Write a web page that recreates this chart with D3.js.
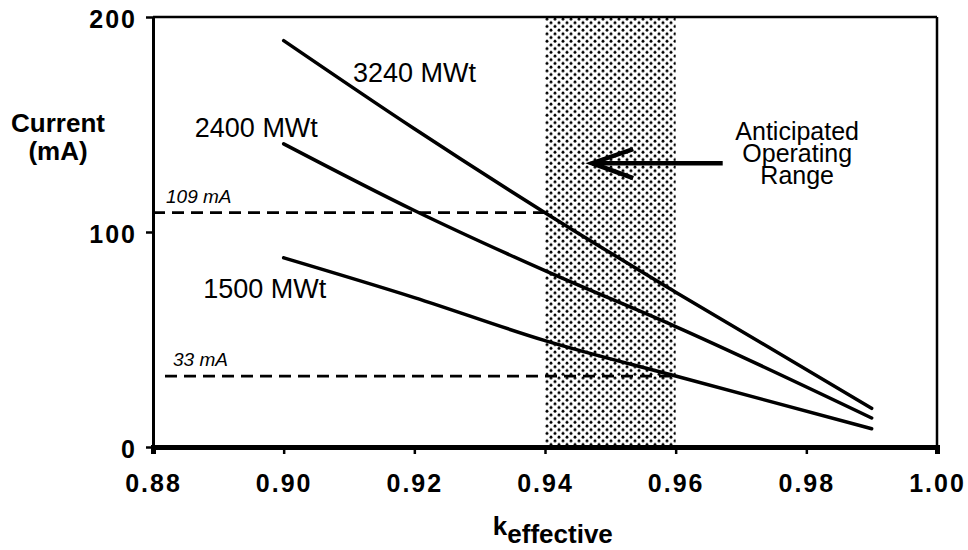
<!DOCTYPE html>
<html>
<head>
<meta charset="utf-8">
<script src="https://cdn.jsdelivr.net/npm/d3@7"></script>
<style>
	html, body { margin: 0; padding: 0; background: #fff; }
	svg { display: block; font-family: 'Liberation Sans', Arial, Helvetica, sans-serif; }
</style>
</head>
<body>
<div id="chart"></div>
<script>
// k-effective sample points
const kValues = [0.90, 0.92, 0.94, 0.96, 0.99];
const current3240 = [189, 148, 109, 72, 18];
const current2400 = [141, 110, 82, 56, 13.5];
const current1500 = [88, 69.5, 49.5, 33, 8.5];

const seriesNames = ['3240 MWt', '2400 MWt', '1500 MWt'];
const xTicks = [0.88, 0.90, 0.92, 0.94, 0.96, 0.98, 1.00];
const yTicks = [0, 100, 200];
const operatingRange = [0.94, 0.96];
const markerCurrents = [109, 33];           // dashed reference levels
const markerEnds = [0.94, 0.96];            // where each dashed line stops
const markerLabels = ['109  mA', '33 mA'];

const width = 968,
	height = 550,
	margin = {top: 17, right: 31, bottom: 103, left: 153},
	innerWidth = width - margin.left - margin.right,
	innerHeight = height - margin.top - margin.bottom;

const x = d3.scaleLinear().domain([0.88, 1.00]).range([0, innerWidth]);
const y = d3.scaleLinear().domain([0, 200]).range([innerHeight, 0]);

const svg = d3.select('#chart').append('svg')
	.attr('width', width)
	.attr('height', height);

// dotted fill for the operating range
const defs = svg.append('defs');
const pat = defs.append('pattern')
	.attr('id', 'dots')
	.attr('width', 8)
	.attr('height', 7.4)
	.attr('patternUnits', 'userSpaceOnUse');
pat.append('circle').attr('cx', 2).attr('cy', 2).attr('r', 1.45).attr('fill', '#000');
pat.append('circle').attr('cx', 6).attr('cy', 5.7).attr('r', 1.45).attr('fill', '#000');

const g = svg.append('g')
	.attr('transform', `translate(${margin.left},${margin.top})`);

g.append('rect')
	.attr('x', x(operatingRange[0]))
	.attr('y', 0)
	.attr('width', x(operatingRange[1]) - x(operatingRange[0]))
	.attr('height', innerHeight)
	.attr('fill', 'url(#dots)');

// dashed reference currents
markerCurrents.forEach((c, i) => {
	g.append('line')
		.attr('x1', i === 0 ? 0 : 12)
		.attr('x2', x(markerEnds[i]))
		.attr('y1', y(c))
		.attr('y2', y(c))
		.attr('stroke', '#000')
		.attr('stroke-width', 2.8)
		.attr('stroke-dasharray', '12,7');
	g.append('text')
		.attr('x', i === 0 ? 13 : 20)
		.attr('y', y(c) - 10)
		.style('font-size', '19px')
		.style('font-style', 'italic')
		.text(markerLabels[i]);
});

// the three power curves
const line = d3.line()
	.x(d => x(d[0]))
	.y(d => y(d[1]))
	.curve(d3.curveMonotoneX);

[current3240, current2400, current1500].forEach(vals => {
	g.append('path')
		.datum(kValues.map((k, i) => [k, vals[i]]))
		.attr('d', line)
		.attr('fill', 'none')
		.attr('stroke', '#000')
		.attr('stroke-width', 3.5)
		.attr('stroke-linecap', 'round');
});

// curve labels
const labelPos = [[0.9106, 170], [0.8864, 144], [0.8877, 69.3]];
seriesNames.forEach((name, i) => {
	g.append('text')
		.attr('x', x(labelPos[i][0]))
		.attr('y', y(labelPos[i][1]))
		.style('font-size', '27px')
		.text(name);
});

// arrow to shaded range
const arrowY = y(132);
g.append('line')
	.attr('x1', x(0.9672))
	.attr('x2', x(0.9472))
	.attr('y1', arrowY)
	.attr('y2', arrowY)
	.attr('stroke', '#000')
	.attr('stroke-width', 4.5);
g.append('path')
	.attr('d', `M${x(0.9535)},${arrowY - 14} L${x(0.9472)},${arrowY} L${x(0.9535)},${arrowY + 15}`)
	.attr('fill', 'none')
	.attr('stroke', '#000')
	.attr('stroke-width', 4.5);

const note = g.append('text')
	.attr('text-anchor', 'middle')
	.style('font-size', '25px');
['Anticipated', 'Operating', 'Range'].forEach((t, i) => {
	note.append('tspan')
		.attr('x', x(0.9786))
		.attr('y', 123 + i * 22)
		.text(t);
});

// frame
g.append('line').attr('x1', 0).attr('x2', innerWidth).attr('y1', 0).attr('y2', 0)
	.attr('stroke', '#000').attr('stroke-width', 2.5);
g.append('line').attr('x1', innerWidth).attr('x2', innerWidth).attr('y1', 0).attr('y2', innerHeight)
	.attr('stroke', '#000').attr('stroke-width', 2.5);

// axes
const xAxis = g.append('g')
	.attr('transform', `translate(0,${innerHeight})`)
	.call(d3.axisBottom(x).tickValues(xTicks).tickSize(7).tickPadding(20).tickFormat(d3.format('.2f')));
xAxis.select('.domain').attr('stroke-width', 5);
xAxis.selectAll('.tick line').attr('stroke-width', 2.5);
xAxis.selectAll('text')
	.style('font-size', '25px')
	.style('font-weight', 'bold')
	.style('letter-spacing', '2px')
	.attr('fill', '#000');

const yAxis = g.append('g')
	.call(d3.axisLeft(y).tickValues(yTicks).tickSize(7).tickPadding(9).tickSizeOuter(0));
yAxis.select('.domain').attr('stroke-width', 3);
yAxis.selectAll('.tick line').attr('stroke-width', 2.5);
yAxis.selectAll('text')
	.attr('dy', '0.42em')
	.style('font-size', '25px')
	.style('font-weight', 'bold')
	.style('letter-spacing', '2px')
	.attr('fill', '#000');

// axis titles
const yTitle = svg.append('text')
	.attr('text-anchor', 'middle')
	.style('font-size', '26px')
	.style('font-weight', 'bold');
yTitle.append('tspan').attr('x', 58).attr('y', 132).text('Current');
yTitle.append('tspan').attr('x', 58).attr('y', 160).text('(mA)');

const xTitle = svg.append('text')
	.attr('x', margin.left + x(0.9412))
	.attr('y', 535)
	.attr('text-anchor', 'middle')
	.style('font-size', '26px')
	.style('font-weight', 'bold');
xTitle.append('tspan').text('k');
xTitle.append('tspan').attr('dy', 8).text('effective');
</script>
</body>
</html>
